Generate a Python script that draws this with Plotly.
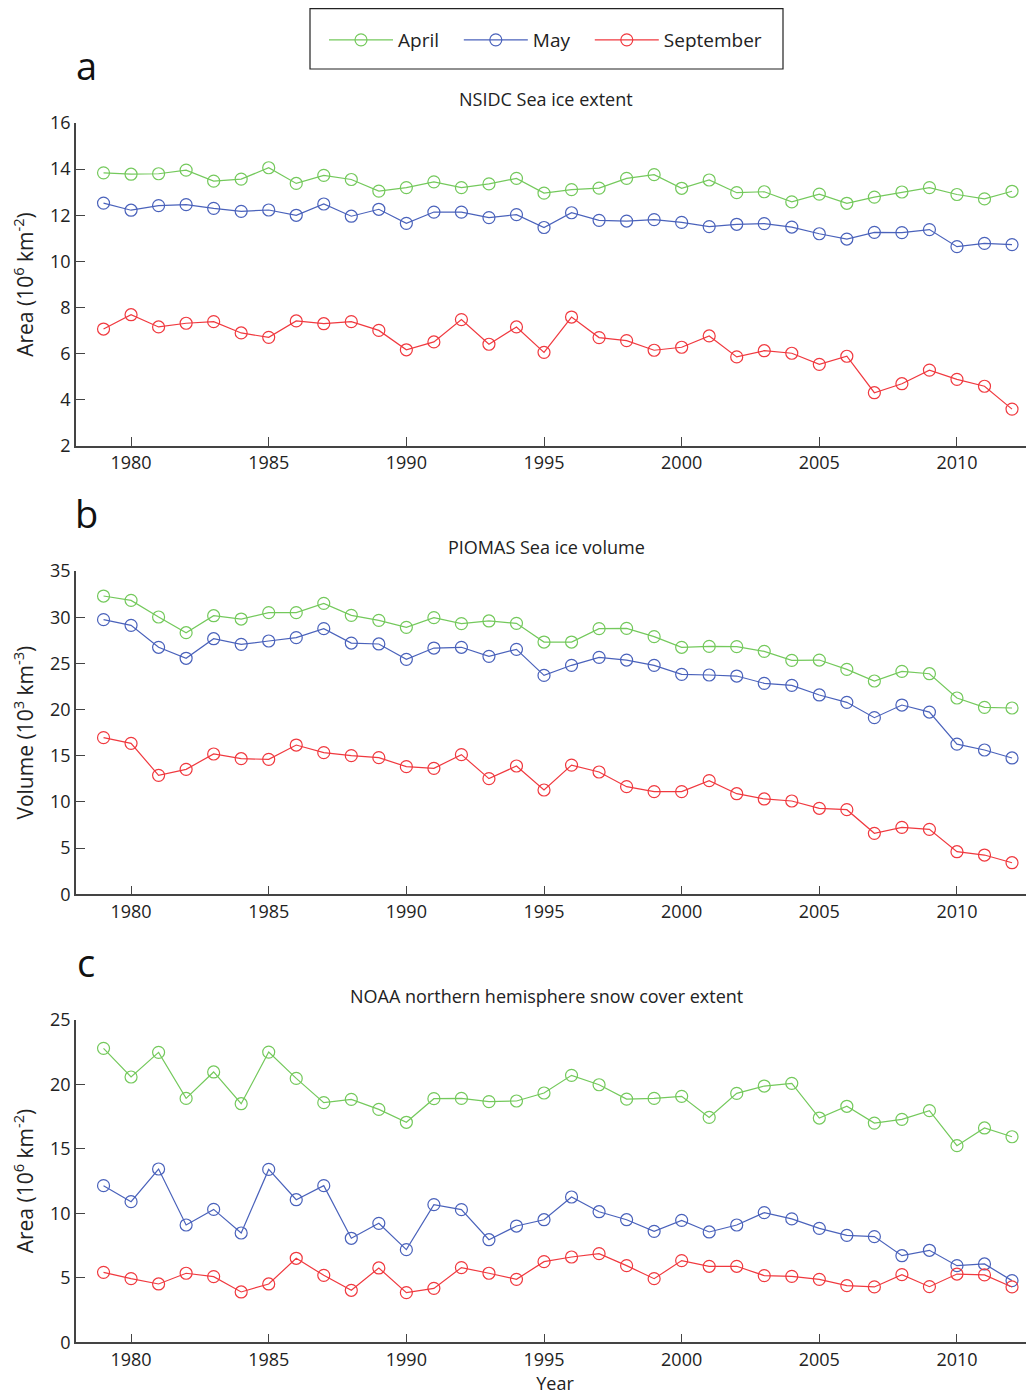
import plotly.graph_objects as go

years = list(range(1979, 2013))

# Panel a: NSIDC sea ice extent (10^6 km^2)
a_april = [13.84, 13.78, 13.80, 13.96, 13.48, 13.57, 14.06, 13.38, 13.73, 13.55, 13.05, 13.20, 13.45, 13.20, 13.36, 13.60, 12.96,
           13.11, 13.18, 13.60, 13.76, 13.17, 13.53, 12.98, 13.02, 12.58, 12.92, 12.52, 12.79, 13.01, 13.20, 12.90, 12.71, 13.04]
a_may = [12.53, 12.22, 12.42, 12.46, 12.30, 12.17, 12.23, 12.00, 12.49, 11.96, 12.26, 11.65, 12.14, 12.14, 11.90, 12.03, 11.47,
         12.11, 11.78, 11.75, 11.81, 11.69, 11.51, 11.61, 11.64, 11.49, 11.20, 10.97, 11.26, 11.25, 11.38, 10.64, 10.78, 10.73]
a_sep = [7.07, 7.69, 7.16, 7.32, 7.39, 6.90, 6.71, 7.42, 7.30, 7.39, 7.01, 6.17, 6.51, 7.48, 6.41, 7.16, 6.06,
         7.59, 6.70, 6.57, 6.15, 6.28, 6.77, 5.86, 6.13, 6.02, 5.54, 5.89, 4.31, 4.70, 5.29, 4.89, 4.59, 3.60]

# Panel b: PIOMAS sea ice volume (10^3 km^3)
b_april = [32.29, 31.82, 30.02, 28.32, 30.16, 29.80, 30.49, 30.49, 31.50, 30.20, 29.66, 28.90, 29.95, 29.30, 29.59, 29.33, 27.31,
           27.31, 28.76, 28.79, 27.89, 26.74, 26.84, 26.81, 26.30, 25.33, 25.36, 24.35, 23.09, 24.14, 23.88, 21.25, 20.24, 20.17]
b_may = [29.73, 29.12, 26.74, 25.55, 27.67, 27.06, 27.42, 27.78, 28.76, 27.20, 27.10, 25.44, 26.66, 26.74, 25.76, 26.52, 23.70,
         24.79, 25.65, 25.36, 24.79, 23.81, 23.74, 23.63, 22.84, 22.62, 21.58, 20.78, 19.12, 20.49, 19.73, 16.26, 15.62, 14.76]
b_sep = [16.96, 16.34, 12.88, 13.53, 15.19, 14.68, 14.61, 16.16, 15.33, 15.01, 14.79, 13.82, 13.64, 15.12, 12.52, 13.89, 11.29,
         13.99, 13.24, 11.65, 11.11, 11.11, 12.30, 10.89, 10.32, 10.10, 9.31, 9.16, 6.60, 7.25, 7.03, 4.61, 4.25, 3.42]

# Panel c: NOAA northern hemisphere snow cover extent (10^6 km^2)
c_april = [22.78, 20.56, 22.47, 18.90, 20.95, 18.49, 22.49, 20.45, 18.57, 18.83, 18.05, 17.05, 18.88, 18.90, 18.65, 18.70, 19.32,
           20.69, 19.96, 18.85, 18.90, 19.06, 17.43, 19.29, 19.86, 20.07, 17.38, 18.29, 16.99, 17.28, 17.95, 15.24, 16.61, 15.93]
c_may = [12.14, 10.90, 13.43, 9.09, 10.30, 8.47, 13.40, 11.05, 12.14, 8.06, 9.22, 7.18, 10.67, 10.28, 7.95, 9.01, 9.50,
         11.26, 10.12, 9.50, 8.60, 9.45, 8.55, 9.09, 10.05, 9.56, 8.83, 8.29, 8.19, 6.71, 7.13, 5.94, 6.07, 4.78]
c_sep = [5.42, 4.93, 4.52, 5.35, 5.09, 3.90, 4.52, 6.51, 5.19, 4.03, 5.76, 3.85, 4.18, 5.79, 5.35, 4.88, 6.25,
         6.61, 6.87, 5.94, 4.93, 6.33, 5.89, 5.89, 5.17, 5.11, 4.88, 4.39, 4.29, 5.24, 4.31, 5.29, 5.22, 4.29]

series_names = ["April", "May", "September"]
colors = ["#74c95c", "#4a62bb", "#f0393f"]
panel_titles = ["NSIDC Sea ice extent", "PIOMAS Sea ice volume", "NOAA northern hemisphere snow cover extent"]
panel_letters = ["a", "b", "c"]
y_titles = ["Area (10<sup>6</sup> km<sup>-2</sup>)", "Volume (10<sup>3</sup> km<sup>-3</sup>)", "Area (10<sup>6</sup> km<sup>-2</sup>)"]
y_ranges = [(2, 16), (0, 35), (0, 25)]
y_dticks = [2, 5, 5]
x_ticks = [1980, 1985, 1990, 1995, 2000, 2005, 2010]

panels = [(a_april, a_may, a_sep), (b_april, b_may, b_sep), (c_april, c_may, c_sep)]

OFF = 8  # page body margin
W, H = 1034 - OFF, 1399 - OFF
FONT = "Open Sans"
# page-pixel layout of plot areas (top, bottom)
plot_px = [(123, 446), (571, 894.3), (1019.7, 1342.3)]
x_left_px = 76
px_per_year = 27.53
legend_pad = ["\u00a0\u00a0\u00a0", "\u00a0\u00a0\u00a0", ""]


def fy(p):
    return 1 - (p - OFF) / H


def fx(p):
    return (p - OFF) / W


fig = go.Figure()

for i, data in enumerate(panels):
    ax = "" if i == 0 else str(i + 1)
    for j, vals in enumerate(data):
        fig.add_trace(go.Scatter(
            x=years, y=vals, mode="lines+markers",
            name=series_names[j] + legend_pad[j], legendgroup=series_names[j],
            showlegend=(i == 0),
            line=dict(color=colors[j], width=1.2),
            marker=dict(symbol="circle-open", size=12, color=colors[j], line=dict(width=1.2, color=colors[j])),
            xaxis="x" + ax, yaxis="y" + ax,
        ))
    top, bot = plot_px[i]
    xkey = "xaxis" + ax
    ykey = "yaxis" + ax
    fig.update_layout(**{
        xkey: dict(
            domain=[fx(x_left_px), 1], range=[1978, 1978 + (1034 - x_left_px) / px_per_year],
            tickvals=x_ticks, ticks="inside", ticklen=9, tickwidth=1, tickcolor="#444",
            showline=True, linecolor="#444", linewidth=1.5, showgrid=False, zeroline=False,
            anchor="y" + ax, tickfont=dict(family=FONT, size=18, color="#222"),
            title=dict(text="Year" if i == 2 else "", font=dict(family=FONT, size=18, color="#222"), standoff=0),
            automargin=False,
        ),
        ykey: dict(
            domain=[fy(bot), fy(top)], range=list(y_ranges[i]), dtick=y_dticks[i], tick0=0,
            ticks="inside", ticklen=9, tickwidth=1, tickcolor="#444",
            showline=True, linecolor="#444", linewidth=1.5, showgrid=False, zeroline=False,
            anchor="x" + ax, tickfont=dict(family=FONT, size=18, color="#222"),
            title=dict(text=y_titles[i], font=dict(family=FONT, size=21, color="#222"), standoff=17),
            automargin=False,
        ),
    })
    fig.add_annotation(text=panel_titles[i], xref="paper", yref="paper",
                       x=fx(546), y=fy(top - 24), xanchor="center", yanchor="middle",
                       showarrow=False, font=dict(family=FONT, size=18, color="#222"))
    fig.add_annotation(text=panel_letters[i], xref="paper", yref="paper",
                       x=fx(86), y=fy(top - 58), xanchor="center", yanchor="middle",
                       showarrow=False, font=dict(family=FONT, size=38, color="#111"))

# legend frame
fig.add_shape(type="rect", xref="paper", yref="paper",
              x0=fx(310), x1=fx(783), y0=fy(69), y1=fy(OFF + 0.6),
              line=dict(color="#222", width=1.2), fillcolor="rgba(0,0,0,0)", layer="below")

fig.update_layout(
    width=W, height=H,
    margin=dict(l=0, r=0, t=0, b=0),
    paper_bgcolor="white", plot_bgcolor="white",
    font=dict(family=FONT, color="#222"),
    legend=dict(
        orientation="h", x=fx(324), y=fy(40), xanchor="left", yanchor="middle",
        borderwidth=0, bgcolor="rgba(0,0,0,0)",
        font=dict(family=FONT, size=19, color="#222"),
        itemwidth=64, traceorder="normal",
    ),
)

fig.write_html("out.html")
